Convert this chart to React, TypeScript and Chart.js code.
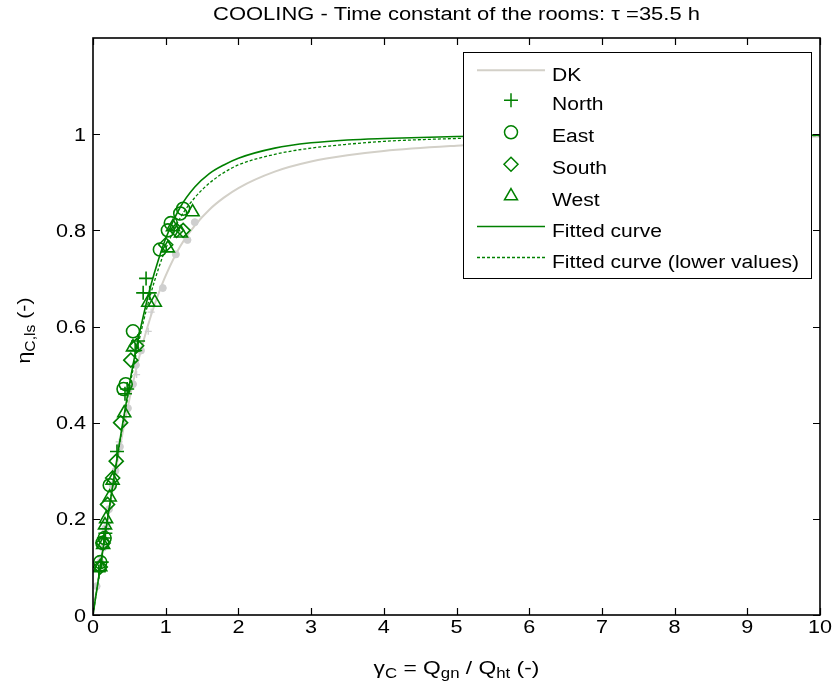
import React, { useEffect, useRef } from "react";
import { Chart, registerables } from "chart.js";

Chart.register(...registerables);

// ---------- data ----------
const TITLE = "COOLING - Time constant of the rooms: \u03c4 =35.5 h";

const X_TICKS = [0, 1, 2, 3, 4, 5, 6, 7, 8, 9, 10];
const X_TICK_LABELS = ["0", "1", "2", "3", "4", "5", "6", "7", "8", "9", "10"];
const Y_TICKS = [0, 0.2, 0.4, 0.6, 0.8, 1];
const Y_TICK_LABELS = ["0", "0.2", "0.4", "0.6", "0.8", "1"];

const LEGEND_LABELS = ["DK", "North", "East", "South", "West", "Fitted curve", "Fitted curve (lower values)"];

// curves (x shared)
const curveX = [0, 0.05, 0.1, 0.2, 0.3, 0.4, 0.5, 0.6, 0.7, 0.8, 0.9, 1.0, 1.2, 1.4, 1.6, 1.8, 2.0, 2.5, 3.0, 3.5, 4.0, 5.0, 6.0, 7.0, 8.0, 9.0, 10.0];
const fittedY = [0, 0.05, 0.1, 0.2, 0.297, 0.391, 0.479, 0.558, 0.627, 0.688, 0.739, 0.783, 0.848, 0.89, 0.918, 0.936, 0.95, 0.971, 0.982, 0.988, 0.991, 0.995, 0.997, 0.998, 0.998, 0.998, 0.998];
const fittedLowY = [0, 0.05, 0.1, 0.199, 0.295, 0.387, 0.471, 0.547, 0.614, 0.671, 0.72, 0.762, 0.826, 0.868, 0.898, 0.92, 0.936, 0.958, 0.971, 0.979, 0.985, 0.991, 0.994, 0.996, 0.997, 0.997, 0.997];
const dkY = [0.02, 0.05, 0.1, 0.197, 0.288, 0.373, 0.448, 0.515, 0.573, 0.624, 0.668, 0.706, 0.767, 0.81, 0.843, 0.868, 0.888, 0.922, 0.943, 0.956, 0.965, 0.976, 0.984, 0.989, 0.992, 0.994, 0.995];

// DK simulation points (grey)
const dkDotX = [0.05, 0.1, 0.14, 0.17, 0.22, 0.27, 0.31, 0.37, 0.48, 0.55, 0.59, 0.66, 0.96, 1.14, 1.3, 1.4];
const dkDotY = [0.06, 0.11, 0.14, 0.18, 0.22, 0.27, 0.3, 0.35, 0.43, 0.48, 0.52, 0.55, 0.68, 0.75, 0.78, 0.817];
const dkPlusX = [0.12, 0.2, 0.36, 0.6, 0.76, 0.8];
const dkPlusY = [0.12, 0.19, 0.36, 0.5, 0.59, 0.63];

// orientation points (green)
const northX = [0.08, 0.12, 0.15, 0.17, 0.33, 0.44, 0.47, 0.58, 0.62, 0.69, 0.73, 0.78];
const northY = [0.09, 0.11, 0.16, 0.17, 0.34, 0.46, 0.47, 0.55, 0.57, 0.67, 0.7, 0.67];
const eastX = [0.1, 0.13, 0.16, 0.23, 0.42, 0.45, 0.55, 0.92, 1.03, 1.07, 1.2, 1.24];
const eastY = [0.11, 0.15, 0.16, 0.27, 0.47, 0.48, 0.59, 0.76, 0.8, 0.815, 0.835, 0.845];
const southX = [0.1, 0.14, 0.2, 0.27, 0.32, 0.38, 0.52, 0.6, 1.0, 1.15, 1.24];
const southY = [0.1, 0.15, 0.23, 0.285, 0.32, 0.4, 0.53, 0.56, 0.77, 0.8, 0.8];
const westX = [0.1, 0.14, 0.165, 0.18, 0.23, 0.27, 0.43, 0.55, 0.76, 0.85, 1.03, 1.1, 1.21, 1.37];
const westY = [0.1, 0.146, 0.187, 0.2, 0.245, 0.28, 0.42, 0.557, 0.65, 0.65, 0.763, 0.807, 0.794, 0.838];

// ---------- styles ----------
const GREEN = "#008000";
const GREY = "#d3d0c8";
const GREY_PT = "#cfcfcf";
const FONT = '"Liberation Sans", Arial, Helvetica, sans-serif';
const SX = 1.2;

const pts = (xs: number[], ys: number[]) => xs.map((x, i) => ({ x, y: ys[i] }));

type Seg = { t: string; sub?: boolean };

function drawText(ctx: CanvasRenderingContext2D, text: string, x: number, y: number, size: number, align: string, sx = SX) {
  ctx.save();
  ctx.font = `${size}px ${FONT}`;
  ctx.textBaseline = "alphabetic";
  ctx.textAlign = "left";
  const w = ctx.measureText(text).width * sx;
  const left = align === "center" ? x - w / 2 : align === "right" ? x - w : x;
  ctx.translate(left, y);
  ctx.scale(sx, 1);
  ctx.fillStyle = "#000";
  ctx.fillText(text, 0, 0);
  ctx.restore();
}

function drawRich(ctx: CanvasRenderingContext2D, segs: Seg[], cx: number, base: number, main: number, sub: number, shift: number, sx = SX) {
  let total = 0;
  for (const s of segs) {
    ctx.font = `${s.sub ? sub : main}px ${FONT}`;
    total += ctx.measureText(s.t).width * sx;
  }
  let x = cx - total / 2;
  for (const s of segs) {
    ctx.save();
    ctx.font = `${s.sub ? sub : main}px ${FONT}`;
    ctx.textBaseline = "alphabetic";
    ctx.textAlign = "left";
    const w = ctx.measureText(s.t).width * sx;
    ctx.translate(x, base + (s.sub ? shift : 0));
    ctx.scale(sx, 1);
    ctx.fillStyle = "#000";
    ctx.fillText(s.t, 0, 0);
    ctx.restore();
    x += w;
  }
}

function drawMarker(ctx: CanvasRenderingContext2D, style: string, x: number, y: number, r: number) {
  ctx.beginPath();
  if (style === "cross") {
    ctx.moveTo(x - r, y);
    ctx.lineTo(x + r, y);
    ctx.moveTo(x, y - r);
    ctx.lineTo(x, y + r);
  } else if (style === "circle") {
    ctx.arc(x, y, r, 0, Math.PI * 2);
  } else if (style === "rectRot") {
    ctx.moveTo(x, y - r);
    ctx.lineTo(x + r, y);
    ctx.lineTo(x, y + r);
    ctx.lineTo(x - r, y);
    ctx.closePath();
  } else if (style === "triangle") {
    for (let k = 0; k < 3; k++) {
      const a = (k * 2 * Math.PI) / 3;
      const px = x + Math.sin(a) * r;
      const py = y - Math.cos(a) * r;
      if (k === 0) ctx.moveTo(px, py);
      else ctx.lineTo(px, py);
    }
    ctx.closePath();
  }
  ctx.stroke();
}

const decorPlugin = {
  id: "decor",
  afterDraw(chart: any) {
    const ctx: CanvasRenderingContext2D = chart.ctx;
    const { left, right, top, bottom } = chart.chartArea;
    const xs = chart.scales.x;
    const ys = chart.scales.y;
    ctx.save();

    // axes box
    ctx.strokeStyle = "#000";
    ctx.lineWidth = 1.6;
    ctx.strokeRect(left, top, right - left, bottom - top);

    // inward ticks
    ctx.lineWidth = 1.2;
    const TL = 7;
    ctx.beginPath();
    X_TICKS.forEach((v) => {
      const px = Math.round(xs.getPixelForValue(v)) + 0.5;
      ctx.moveTo(px, bottom);
      ctx.lineTo(px, bottom - TL);
      ctx.moveTo(px, top);
      ctx.lineTo(px, top + TL);
    });
    Y_TICKS.forEach((v) => {
      const py = Math.round(ys.getPixelForValue(v)) + 0.5;
      ctx.moveTo(left, py);
      ctx.lineTo(left + TL, py);
      ctx.moveTo(right, py);
      ctx.lineTo(right - TL, py);
    });
    ctx.stroke();

    // tick labels
    X_TICKS.forEach((v, i) => {
      drawText(ctx, X_TICK_LABELS[i], xs.getPixelForValue(v), bottom + 18, 18, "center");
    });
    Y_TICKS.forEach((v, i) => {
      drawText(ctx, Y_TICK_LABELS[i], left - 7, ys.getPixelForValue(v) + 6.5, 18, "right");
    });

    // title
    drawText(ctx, TITLE, (left + right) / 2, 20, 18, "center", 1.22);

    // x label
    drawRich(
      ctx,
      [
        { t: "\u03b3" },
        { t: "C", sub: true },
        { t: " = Q" },
        { t: "gn", sub: true },
        { t: " / Q" },
        { t: "ht", sub: true },
        { t: " (-)" },
      ],
      (left + right) / 2,
      674,
      19,
      14,
      4
    );

    // y label
    ctx.save();
    ctx.translate(30, (top + bottom) / 2 + 4);
    ctx.rotate(-Math.PI / 2);
    drawRich(ctx, [{ t: "\u03b7" }, { t: "C,ls", sub: true }, { t: " (-)" }], 0, 0, 19, 14, 5, 1.12);
    ctx.restore();

    // legend
    const LX = 463, LY = 52, LW = 348, LH = 226;
    ctx.fillStyle = "#fff";
    ctx.fillRect(LX, LY, LW, LH);
    ctx.strokeStyle = "#000";
    ctx.lineWidth = 1;
    ctx.strokeRect(LX + 0.5, LY + 0.5, LW, LH);
    const rowsC = [74.3, 103.3, 135.3, 167.3, 199, 230.5, 261.5];
    const styles = ["line-grey", "cross", "circle", "rectRot", "triangle", "line", "dash"];
    const radii: Record<string, number> = { cross: 7, circle: 6.5, rectRot: 7, triangle: 7.5 };
    rowsC.forEach((cy, i) => {
      const st = styles[i];
      ctx.save();
      if (st === "line-grey" || st === "line" || st === "dash") {
        ctx.strokeStyle = st === "line-grey" ? GREY : GREEN;
        ctx.lineWidth = st === "line-grey" ? 2 : 1.5;
        if (st === "dash") ctx.setLineDash([3, 2]);
        ctx.beginPath();
        ctx.moveTo(477, cy - 4);
        ctx.lineTo(545, cy - 4);
        ctx.stroke();
      } else {
        ctx.strokeStyle = GREEN;
        ctx.lineWidth = 1.5;
        drawMarker(ctx, st, 511, cy - 3, radii[st]);
      }
      ctx.restore();
      drawText(ctx, LEGEND_LABELS[i], 552, cy + 6.5, 18, "left", 1.17);
    });

    ctx.restore();
  },
};

export default function App() {
  const ref = useRef<HTMLCanvasElement | null>(null);

  useEffect(() => {
    if (!ref.current) return;
    const marker = (label: string, xs: number[], ys: number[], style: string, r: number) => ({
      label,
      data: pts(xs, ys),
      showLine: false,
      pointStyle: style,
      pointRadius: r,
      pointHoverRadius: r,
      pointBorderColor: GREEN,
      pointBackgroundColor: "rgba(0,0,0,0)",
      pointBorderWidth: 1.6,
      borderColor: GREEN,
      backgroundColor: "rgba(0,0,0,0)",
    });
    const curve = (label: string, ys: number[], color: string, width: number, dash: number[]) => ({
      label,
      data: pts(curveX, ys),
      showLine: true,
      borderColor: color,
      borderWidth: width,
      borderDash: dash,
      pointRadius: 0,
      cubicInterpolationMode: "monotone",
      fill: false,
    });

    const chart = new Chart(ref.current, {
      type: "scatter",
      data: {
        datasets: [
          marker("North", northX, northY, "cross", 7),
          marker("East", eastX, eastY, "circle", 6.5),
          marker("South", southX, southY, "rectRot", 7),
          marker("West", westX, westY, "triangle", 7.5),
          curve("Fitted curve", fittedY, GREEN, 1.6, []),
          curve("Fitted curve (lower values)", fittedLowY, GREEN, 1.3, [3, 2]),
          {
            label: "DK +",
            data: pts(dkPlusX, dkPlusY),
            showLine: false,
            pointStyle: "cross",
            pointRadius: 3.5,
            pointBorderColor: GREY_PT,
            pointBorderWidth: 1.3,
          },
          {
            label: "DK o",
            data: pts(dkDotX, dkDotY),
            showLine: false,
            pointStyle: "circle",
            pointRadius: 3.5,
            pointBorderColor: GREY_PT,
            pointBackgroundColor: GREY_PT,
            pointBorderWidth: 1,
          },
          curve("DK", dkY, GREY, 2, []),
        ] as any,
      },
      options: {
        animation: false,
        responsive: false,
        devicePixelRatio: 1,
        events: [],
        layout: { padding: { top: 38, right: 15, left: 0, bottom: 0 } },
        plugins: {
          legend: { display: false },
          title: { display: false },
          tooltip: { enabled: false },
        },
        scales: {
          x: {
            type: "linear",
            min: 0,
            max: 10,
            ticks: { display: false },
            grid: { display: false },
            border: { display: false },
            afterFit: (s: any) => {
              s.height = 69;
            },
          },
          y: {
            type: "linear",
            min: 0,
            max: 1.2,
            ticks: { display: false },
            grid: { display: false },
            border: { display: false },
            afterFit: (s: any) => {
              s.width = 93;
            },
          },
        },
      } as any,
      plugins: [decorPlugin],
    });
    return () => chart.destroy();
  }, []);

  return (
    <div style={{ position: "absolute", left: 0, top: 0, width: 835, height: 684, background: "#fff" }}>
      <canvas ref={ref} width={835} height={684} style={{ display: "block" }} />
    </div>
  );
}
